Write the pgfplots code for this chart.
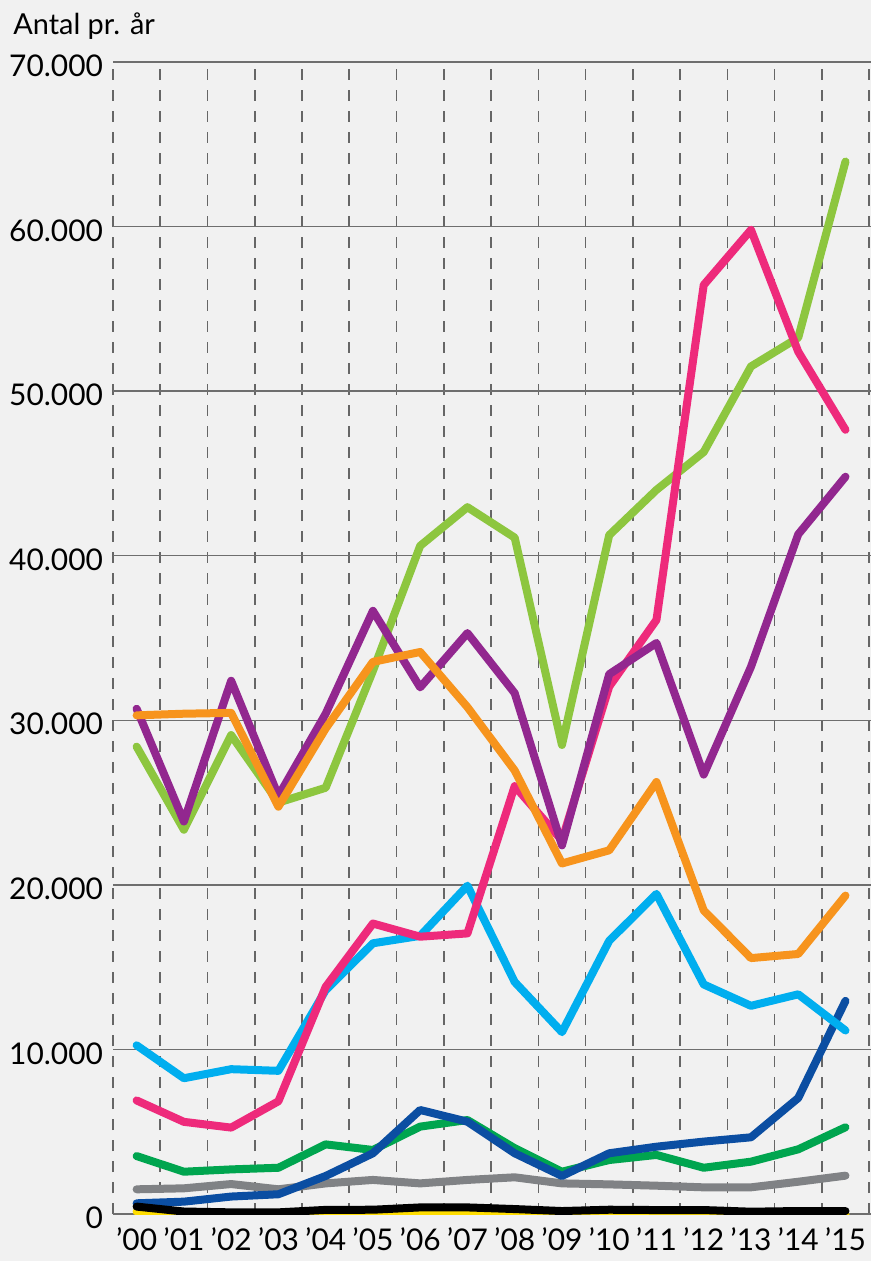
\documentclass[border=0pt]{standalone}
\usepackage{fontspec}
\setmainfont{Lato}
\usepackage{pgfplots}
\usepackage{pgfplotstable}
\pgfplotsset{compat=1.18}
\definecolor{bgcol}{HTML}{F1F1F1}
\definecolor{gridcol}{HTML}{6E6E6E}
\definecolor{dashcol}{HTML}{666666}
\definecolor{clg}{HTML}{8DC63F}
\definecolor{cpink}{HTML}{EE2A7B}
\definecolor{cpurple}{HTML}{92278F}
\definecolor{corange}{HTML}{F7941D}
\definecolor{clb}{HTML}{00AEEF}
\definecolor{cdb}{HTML}{0B4EA2}
\definecolor{cgr}{HTML}{00A54F}
\definecolor{cgray}{HTML}{808285}
\definecolor{cblk}{HTML}{000000}
\definecolor{cyel}{HTML}{FFDD00}
\pgfplotstableread{
x lg pink purple orange lb db gr gray blk yel
0 28400 6900 30700 30300 10250 650 3520 1500 450 150
1 23350 5600 23850 30400 8250 750 2570 1560 150 0
2 29100 5250 32400 30450 8800 1060 2710 1820 100 0
3 25000 6850 25400 24750 8700 1200 2810 1500 100 0
4 25900 13800 30400 29500 13600 2310 4230 1860 250 50
5 33000 17650 36650 33550 16450 3690 3890 2070 260 50
6 40600 16850 32000 34150 16900 6320 5310 1860 400 50
7 42950 17050 35300 30800 19950 5610 5710 2070 400 50
8 41100 26000 31650 26950 14100 3690 4000 2230 300 50
9 28500 22700 22400 21300 11050 2310 2570 1860 180 0
10 41250 32050 32800 22100 16600 3690 3280 1800 260 0
11 44000 36100 34700 26250 19450 4090 3590 1720 240 0
12 46300 56450 26700 18450 13950 4400 2810 1620 240 0
13 51500 59800 33250 15550 12650 4660 3180 1620 140 0
14 53250 52400 41300 15800 13350 7050 3930 1960 180 0
15 63950 47650 44800 19350 11150 12950 5270 2330 180 0
}\data
\begin{document}
\begin{tikzpicture}
\path[use as bounding box, fill=bgcol] (-56.5bp,-23.5bp) rectangle (379bp,607bp);
\begin{axis}[
  scale only axis, width=379bp, height=576bp,
  xmin=-0.5, xmax=15.54, ymin=0, ymax=70000,
  axis line style={draw=none},
  major tick length=0, minor tick length=0,
  ytick={0,10000,20000,30000,40000,50000,60000,70000},
  scaled y ticks=false,
  ymajorgrids,
  major grid style={draw=gridcol, line width=0.75bp},
  xtick={0,...,15},
  xticklabels={’00,’01,’02,’03,’04,’05,’06,’07,’08,’09,’10,’11,’12,’13,’14,’15},
  minor xtick={-0.5,0.5,1.5,2.5,3.5,4.5,5.5,6.5,7.5,8.5,9.5,10.5,11.5,12.5,13.5,14.5,15.5},
  xminorgrids,
  minor grid style={draw=dashcol, line width=0.8bp, dash pattern=on 5.5bp off 5bp},
  tick label style={font=\fontsize{15}{18}\selectfont, text=black},
  yticklabel style={anchor=east, xshift=-1.5bp, yshift=-2bp},
  xticklabel style={anchor=north, yshift=-5.5bp, inner sep=1bp},
  every axis plot/.append style={line width=4bp, line cap=round, line join=round, mark=none},
  /pgf/number format/fixed,
  /pgf/number format/1000 sep={.},
  /pgf/number format/assume math mode=true,
]
\addplot[cyel] table[x=x,y=yel] {\data};
\addplot[cgray] table[x=x,y=gray] {\data};
\addplot[cgr] table[x=x,y=gr] {\data};
\addplot[cdb] table[x=x,y=db] {\data};
\addplot[clb] table[x=x,y=lb] {\data};
\addplot[clg] table[x=x,y=lg] {\data};
\addplot[cpink] table[x=x,y=pink] {\data};
\addplot[cpurple] table[x=x,y=purple] {\data};
\addplot[corange] table[x=x,y=orange] {\data};
\addplot[cblk] table[x=x,y=blk] {\data};
\end{axis}
\node[anchor=base west, font=\fontsize{14.5}{18}\selectfont, inner sep=0pt] at (-50bp,589.5bp) {Antal pr. år};
\end{tikzpicture}
\end{document}
